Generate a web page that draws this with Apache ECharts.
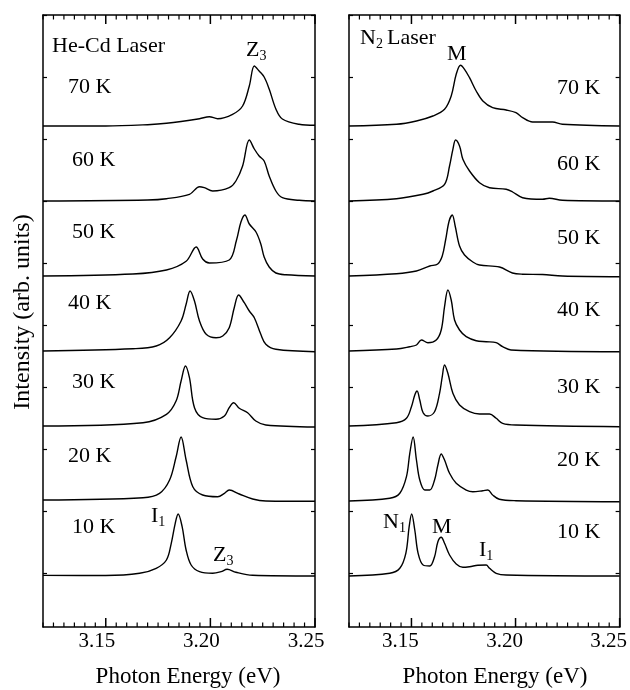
<!DOCTYPE html>
<html>
<head>
<meta charset="utf-8">
<script src="https://cdn.jsdelivr.net/npm/echarts@6/dist/echarts.min.js"></script>
<style>
  html, body { margin: 0; padding: 0; background: #fff; }
  #chart { width: 630px; height: 690px; }
</style>
</head>
<body>
<div id="chart"></div>
<script>
// spectra: [photon energy (eV), intensity (arb. units)]
const heCd10 = [[3.12,0.6],[3.15,0.5],[3.1662,2.7],[3.1741,7.7],[3.179,16],[3.1813,32.7],[3.1832,52.7],[3.1846,62],[3.1865,49.3],[3.1884,26],[3.1908,11],[3.1948,4.3],[3.2011,2.7],[3.2051,4.3],[3.208,6.7],[3.2122,3.7],[3.2202,0.7],[3.25,0]]
const heCd20 = [[3.12,1],[3.1678,3.3],[3.1757,7.7],[3.1805,21],[3.1836,44],[3.186,64],[3.1884,41],[3.1916,14.3],[3.1963,6],[3.2035,4.3],[3.2067,7.7],[3.209,11],[3.2138,7],[3.2202,2],[3.2265,0],[3.25,-0.3]]
const heCd30 = [[3.12,0],[3.1678,3.3],[3.179,11.7],[3.1836,25],[3.186,45],[3.1881,60],[3.19,48.3],[3.1924,18.3],[3.1963,8.3],[3.2027,6.7],[3.2067,10],[3.209,18.3],[3.2111,23.3],[3.2138,17.7],[3.2178,13.3],[3.2217,5],[3.2265,1],[3.25,-1]]
const heCd40 = [[3.12,0],[3.163,2.3],[3.1741,5],[3.1805,13.3],[3.186,30],[3.1884,46.7],[3.1903,60],[3.1924,50],[3.1948,30],[3.198,16.7],[3.2027,13.3],[3.2059,15],[3.209,23.3],[3.2114,43.3],[3.2135,56],[3.2162,48.3],[3.2186,40],[3.221,33.3],[3.2241,16.7],[3.2265,6.7],[3.2313,1.7],[3.25,-0.7]]
const heCd50 = [[3.12,0],[3.163,2],[3.179,6],[3.1884,14.7],[3.1932,29],[3.1963,17],[3.1995,13],[3.209,16],[3.2125,36],[3.2146,54],[3.2165,61],[3.2186,52],[3.2218,44],[3.2241,32],[3.2257,19],[3.2281,9],[3.2313,3],[3.236,1.2],[3.25,0]]
const heCd60 = [[3.12,0],[3.17,1],[3.179,2.3],[3.19,6.7],[3.1948,14.3],[3.1971,13.3],[3.2011,10],[3.209,13.3],[3.2122,20],[3.2154,35],[3.2186,61],[3.221,52],[3.2233,45],[3.2257,40],[3.2281,25],[3.2313,10],[3.2344,3.3],[3.2424,0.7],[3.25,0]]
const heCd70 = [[3.12,0],[3.15,0],[3.17,1.3],[3.179,2.7],[3.1948,7.3],[3.1995,9.3],[3.2035,7.3],[3.2106,11.7],[3.2154,20],[3.2186,40],[3.221,60],[3.2233,55],[3.2257,49],[3.2281,37],[3.2313,17],[3.2344,7],[3.2424,1.7],[3.25,0.7]]

const n2_10 = [[3.12,0],[3.1396,2.7],[3.1444,7.7],[3.1473,22.7],[3.1489,49.3],[3.1501,62],[3.1516,46],[3.1532,22.7],[3.1556,11],[3.1588,10],[3.1611,19.3],[3.1627,34.3],[3.1643,38.7],[3.1659,32.7],[3.1683,21],[3.1715,12],[3.1747,8.7],[3.1779,9.3],[3.1819,10.7],[3.1859,11],[3.1875,7.7],[3.1907,2.7],[3.1955,1],[3.25,0]]
const n2_20 = [[3.12,0],[3.1396,2.7],[3.1444,7.7],[3.1476,24.3],[3.1492,47.7],[3.1508,64],[3.1524,41],[3.154,21],[3.1564,11],[3.1588,11],[3.1611,21],[3.1627,36],[3.1643,47],[3.1659,41],[3.1683,27.7],[3.1715,17.7],[3.1763,11],[3.1795,9.3],[3.1843,10.3],[3.1867,11],[3.189,6],[3.1922,1.7],[3.2002,0.3],[3.25,-0.7]]
const n2_30 = [[3.12,0],[3.1428,3.3],[3.1476,7.7],[3.15,19.3],[3.1516,31],[3.1527,35],[3.154,26],[3.1556,13.3],[3.1579,10],[3.1611,14.3],[3.1635,32.7],[3.1648,49.3],[3.1659,61],[3.1675,52.7],[3.1699,32.7],[3.1731,21],[3.1779,14.3],[3.1827,12],[3.1875,12],[3.1907,7.7],[3.1938,2.7],[3.2002,1],[3.25,-0.7]]
const n2_40 = [[3.12,0],[3.1428,2],[3.1492,4.3],[3.1524,6],[3.1548,11],[3.1579,8.3],[3.1619,11],[3.1643,21],[3.1659,44.3],[3.1675,61],[3.1691,51],[3.1707,31],[3.1731,21],[3.1763,14.3],[3.1811,10.3],[3.1859,9.3],[3.1907,8.3],[3.1938,4.3],[3.1978,1],[3.25,-0.7]]
const n2_50 = [[3.12,0],[3.1428,2.3],[3.1524,5],[3.1588,10],[3.1626,12],[3.1648,20],[3.1664,36],[3.1681,55],[3.1696,61],[3.171,50],[3.1731,30],[3.1755,21],[3.1795,14],[3.1827,11],[3.1923,9],[3.1985,3],[3.2034,1.8],[3.213,1.5],[3.2225,0],[3.25,-0.7]]
const n2_60 = [[3.12,0],[3.1428,2.3],[3.1556,6.7],[3.1603,10],[3.1659,16.7],[3.1683,35],[3.1699,51.7],[3.1712,61],[3.1731,55],[3.1747,41.7],[3.1779,30],[3.1827,18.3],[3.1875,13.3],[3.1955,11.7],[3.1986,9],[3.2034,3.3],[3.213,1.7],[3.2162,2.7],[3.2225,0.7],[3.25,0]]
const n2_70 = [[3.12,0],[3.1428,1.7],[3.1524,5],[3.1603,10],[3.1659,16.7],[3.1691,30],[3.1715,51.7],[3.1736,60.7],[3.1755,56.7],[3.1779,48.3],[3.1811,35],[3.1843,25],[3.189,18.3],[3.1955,16],[3.2002,13.3],[3.2034,8.3],[3.2082,4],[3.2178,4],[3.2225,1.7],[3.25,0]]

const temps = ['10 K', '20 K', '30 K', '40 K', '50 K', '60 K', '70 K']
const heCdSpectra = [heCd10, heCd20, heCd30, heCd40, heCd50, heCd60, heCd70]
const n2Spectra = [n2_10, n2_20, n2_30, n2_40, n2_50, n2_60, n2_70]
const xTicks = [3.15, 3.20, 3.25]
const yTicks = [54, 116, 178, 240, 302, 364, 426, 488, 550, 612]

// vertical stacking of the spectra
const firstBase = 51
const baseStep = 75
const yMax = 612

const FONT = '"Liberation Serif", "Times New Roman", serif'

// minor ticks every 0.005 eV, major ones at the labelled values
const tickMarks = []
for (let k = 0; k <= 26; k++) {
  const v = +(3.12 + k * 0.005).toFixed(3)
  tickMarks.push([v, xTicks.some(t => Math.abs(t - v) < 1e-6) ? 1 : 0])
}

function xAxis(grid, top) {
  return {
    type: 'value', gridIndex: grid, min: 3.12, max: 3.25,
    position: top ? 'top' : 'bottom',
    axisLine: { show: true, onZero: false, lineStyle: { color: '#000', width: 1.5 } },
    axisTick: { show: false },
    axisLabel: top
      ? { show: false }
      : { show: true, customValues: xTicks, formatter: v => v.toFixed(2), color: '#000', fontFamily: FONT, fontSize: 21, margin: 4, padding: [0, grid ? 22 : 18, 0, 0] },
    splitLine: { show: false }
  }
}

function yAxis(grid, right) {
  return {
    type: 'value', gridIndex: grid, min: 0, max: yMax,
    position: right ? 'right' : 'left',
    axisLine: { show: true, onZero: false, lineStyle: { color: '#000', width: 1.5 } },
    axisTick: { show: true, inside: true, length: 4, customValues: yTicks, lineStyle: { color: '#000', width: 1.2 } },
    axisLabel: { show: false },
    splitLine: { show: false }
  }
}

// inward x ticks on bottom and top edges, placed through the axis scale
function tickSeries(xi, yi) {
  return {
    type: 'custom', xAxisIndex: xi, yAxisIndex: yi, silent: true, clip: false,
    data: tickMarks,
    renderItem: function (params, api) {
      const b = api.coord([api.value(0), 0])
      const t = api.coord([api.value(0), yMax])
      const len = api.value(1) ? 9 : 4.5
      const st = { stroke: '#000', lineWidth: api.value(1) ? 1.5 : 1.2 }
      return {
        type: 'group',
        children: [
          { type: 'line', shape: { x1: b[0], y1: b[1], x2: b[0], y2: b[1] - len }, style: st },
          { type: 'line', shape: { x1: t[0], y1: t[1], x2: t[0], y2: t[1] + len }, style: st }
        ]
      }
    }
  }
}

function txt(x, y, text, size, rich) {
  return {
    type: 'text', x: x, y: y, silent: true,
    style: {
      text: text, fill: '#000', fontFamily: FONT, fontSize: size,
      align: 'left', verticalAlign: 'middle', textAlign: 'left', textVerticalAlign: 'middle',
      rich: rich
    }
  }
}

function subText(x, y, main, sub) {
  return txt(x, y, '{m|' + main + '}{s|' + sub + '}', 22, {
    m: { fontFamily: FONT, fontSize: 22, lineHeight: 24, fill: '#000' },
    s: { fontFamily: FONT, fontSize: 14, fill: '#000', verticalAlign: 'top', padding: [12, 0, 0, 0] }
  })
}

const series = []
heCdSpectra.forEach((s, k) => {
  series.push({
    type: 'line', xAxisIndex: 0, yAxisIndex: 0, showSymbol: false, smooth: 0.35,
    data: s.map(p => [p[0], p[1] + firstBase + k * baseStep]),
    lineStyle: { color: '#000', width: 1.4 }, silent: true
  })
})
n2Spectra.forEach((s, k) => {
  series.push({
    type: 'line', xAxisIndex: 2, yAxisIndex: 2, showSymbol: false, smooth: 0.35,
    data: s.map(p => [p[0], p[1] + firstBase + k * baseStep]),
    lineStyle: { color: '#000', width: 1.4 }, silent: true
  })
})
series.push(tickSeries(0, 0))
series.push(tickSeries(2, 2))

// label placement (pixels)
const leftTempX = [72, 68, 72, 68, 72, 72, 68]
const leftTempY = [527, 456, 382, 303, 232, 160, 87]
const rightTempY = [532, 460, 387, 310, 238, 164, 88]

const graphic = []
temps.forEach((t, k) => {
  graphic.push(txt(leftTempX[k], leftTempY[k], t, 22))
  graphic.push(txt(557, rightTempY[k], t, 22))
})
graphic.push(txt(52, 46, 'He-Cd Laser', 22))
graphic.push(subText(246, 50, 'Z', '3'))
graphic.push(subText(151, 516, 'I', '1'))
graphic.push(subText(213, 555, 'Z', '3'))
graphic.push(subText(360, 38, 'N', '2'))
graphic.push(txt(387, 38, 'Laser', 22))
graphic.push(txt(447, 54, 'M', 22))
graphic.push(subText(383, 522, 'N', '1'))
graphic.push(txt(432, 527, 'M', 22))
graphic.push(subText(479, 550, 'I', '1'))
graphic.push({
  type: 'text', x: 23, y: 312, rotation: Math.PI / 2, silent: true,
  style: { text: 'Intensity (arb. units)', fill: '#000', fontFamily: FONT, fontSize: 24,
    align: 'center', verticalAlign: 'middle', textAlign: 'center', textVerticalAlign: 'middle' }
})
graphic.push({
  type: 'text', x: 188, y: 677, silent: true,
  style: { text: 'Photon Energy (eV)', fill: '#000', fontFamily: FONT, fontSize: 23,
    align: 'center', verticalAlign: 'middle', textAlign: 'center', textVerticalAlign: 'middle' }
})
graphic.push({
  type: 'text', x: 495, y: 677, silent: true,
  style: { text: 'Photon Energy (eV)', fill: '#000', fontFamily: FONT, fontSize: 23,
    align: 'center', verticalAlign: 'middle', textAlign: 'center', textVerticalAlign: 'middle' }
})

const option = {
  animation: false,
  backgroundColor: '#fff',
  grid: [
    { left: 43, top: 15, width: 272, height: 612 },
    { left: 349, top: 15, width: 273, height: 612 }
  ],
  xAxis: [xAxis(0, false), xAxis(0, true), xAxis(1, false), xAxis(1, true)],
  yAxis: [yAxis(0, false), yAxis(0, true), yAxis(1, false), yAxis(1, true)],
  series: series,
  graphic: graphic
}

let chart = echarts.init(document.getElementById('chart'))
chart.setOption(option)
</script>
</body>
</html>
